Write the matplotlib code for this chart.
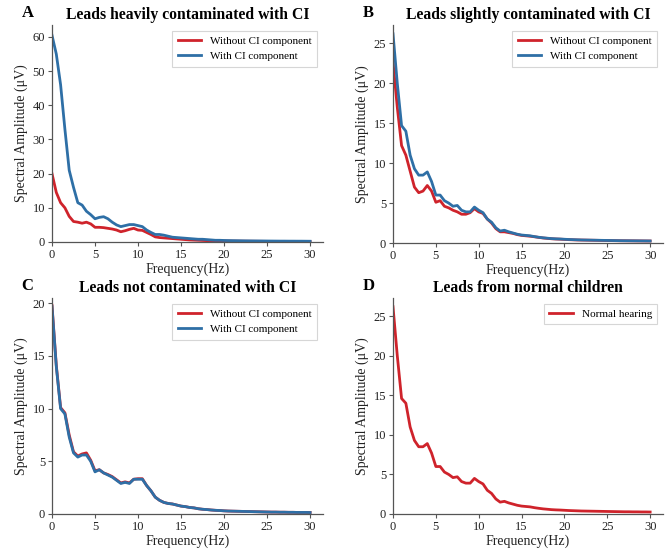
import matplotlib
matplotlib.use("Agg")
import matplotlib.pyplot as plt
import numpy as np

plt.rcParams['font.family'] = ['Liberation Serif', 'DejaVu Serif']

freq = [i * 0.5 for i in range(61)]

a_with = [60.5, 55.0, 46.0, 33.0, 21.0, 16.0, 11.5, 10.8, 9.0, 8.0,
          6.8, 7.2, 7.4, 6.8, 5.8, 5.0, 4.5, 4.8, 5.1, 5.1,
          4.8, 4.5, 3.5, 2.8, 2.2, 2.2, 2.0, 1.7, 1.4, 1.3,
          1.2, 1.1, 1.0, 0.9, 0.8, 0.8, 0.7, 0.6, 0.5, 0.5,
          0.45, 0.42, 0.4, 0.38, 0.36, 0.34, 0.33, 0.32, 0.31, 0.3,
          0.29, 0.28, 0.27, 0.26, 0.26, 0.25, 0.25, 0.24, 0.24, 0.23, 0.22]
a_without = [20.0, 14.5, 11.5, 10.0, 7.5, 6.0, 5.8, 5.5, 5.8, 5.3,
             4.3, 4.3, 4.2, 4.0, 3.8, 3.5, 3.0, 3.3, 3.7, 4.0,
             3.5, 3.4, 2.8, 2.2, 1.5, 1.3, 1.2, 1.1, 1.0, 0.9,
             0.8, 0.7, 0.6, 0.55, 0.5, 0.45, 0.4, 0.38, 0.35, 0.32,
             0.3, 0.28, 0.26, 0.25, 0.24, 0.23, 0.22, 0.21, 0.2, 0.19,
             0.18, 0.17, 0.16, 0.15, 0.15, 0.14, 0.14, 0.13, 0.13, 0.12, 0.12]

b_with = [26.2, 20.0, 14.7, 14.0, 11.0, 9.3, 8.5, 8.5, 8.9, 7.7,
          6.0, 6.0, 5.3, 5.0, 4.6, 4.7, 4.1, 3.9, 3.9, 4.5,
          4.1, 3.8, 3.0, 2.6, 1.9, 1.5, 1.6, 1.4, 1.25, 1.1,
          1.0, 0.95, 0.9, 0.8, 0.72, 0.65, 0.6, 0.55, 0.52, 0.5,
          0.47, 0.44, 0.42, 0.4, 0.38, 0.37, 0.36, 0.35, 0.34, 0.33,
          0.32, 0.31, 0.3, 0.29, 0.28, 0.28, 0.27, 0.27, 0.26, 0.26, 0.25]
b_without = [22.7, 17.0, 12.2, 11.0, 9.0, 7.0, 6.3, 6.5, 7.2, 6.5,
             5.1, 5.3, 4.6, 4.4, 4.1, 3.9, 3.6, 3.6, 3.8, 4.3,
             3.9, 3.7, 3.0, 2.5, 1.8, 1.4, 1.4, 1.3, 1.2, 1.05,
             0.95, 0.9, 0.85, 0.78, 0.7, 0.63, 0.58, 0.53, 0.5, 0.48,
             0.45, 0.42, 0.4, 0.38, 0.37, 0.36, 0.35, 0.34, 0.33, 0.32,
             0.31, 0.3, 0.29, 0.28, 0.28, 0.27, 0.27, 0.26, 0.26, 0.25, 0.25]

c_with = [19.7, 14.0, 10.0, 9.5, 7.3, 5.8, 5.4, 5.6, 5.6, 5.0,
          4.0, 4.2, 3.9, 3.7, 3.5, 3.2, 2.9, 3.0, 2.9, 3.3,
          3.3, 3.3, 2.7, 2.2, 1.6, 1.3, 1.1, 1.0, 0.95, 0.85,
          0.75, 0.7, 0.62, 0.58, 0.5, 0.45, 0.42, 0.38, 0.35, 0.33,
          0.3, 0.28, 0.27, 0.26, 0.25, 0.24, 0.23, 0.22, 0.21, 0.2,
          0.19, 0.18, 0.18, 0.17, 0.17, 0.16, 0.16, 0.15, 0.15, 0.15, 0.14]
c_without = [19.8, 14.1, 10.1, 9.6, 7.5, 5.9, 5.5, 5.7, 5.8, 5.1,
             4.1, 4.2, 3.9, 3.75, 3.55, 3.25, 2.95, 3.05, 2.95, 3.3,
             3.35, 3.35, 2.7, 2.2, 1.6, 1.3, 1.1, 1.0, 0.95, 0.85,
             0.75, 0.7, 0.62, 0.58, 0.5, 0.45, 0.42, 0.38, 0.35, 0.33,
             0.3, 0.28, 0.27, 0.26, 0.25, 0.24, 0.23, 0.22, 0.21, 0.2,
             0.19, 0.18, 0.18, 0.17, 0.17, 0.16, 0.16, 0.15, 0.15, 0.15, 0.14]

d_normal = [26.2, 20.0, 14.6, 14.0, 11.0, 9.3, 8.5, 8.5, 8.9, 7.7,
            6.0, 6.0, 5.3, 5.0, 4.6, 4.7, 4.1, 3.9, 3.9, 4.5,
            4.1, 3.8, 3.0, 2.6, 1.9, 1.5, 1.6, 1.4, 1.25, 1.1,
            1.0, 0.95, 0.9, 0.8, 0.72, 0.65, 0.6, 0.55, 0.52, 0.5,
            0.47, 0.44, 0.42, 0.4, 0.38, 0.37, 0.36, 0.35, 0.34, 0.33,
            0.32, 0.31, 0.3, 0.29, 0.28, 0.28, 0.27, 0.27, 0.26, 0.26, 0.25]

titles = ["Leads heavily contaminated with CI", "Leads slightly contaminated with CI",
          "Leads not contaminated with CI", "Leads from normal children"]
letters = ["A", "B", "C", "D"]
label_without = "Without CI component"
label_with = "With CI component"
label_normal = "Normal hearing"
xticks = [0, 5, 10, 15, 20, 25, 30]
yticks_list = [[0, 10, 20, 30, 40, 50, 60], [0, 5, 10, 15, 20, 25],
               [0, 5, 10, 15, 20], [0, 5, 10, 15, 20, 25]]

RED = "#cf232b"
BLUE = "#2e6fa6"

W, H = 670, 552
fig = plt.figure(figsize=(6.7, 5.52), dpi=100)

boxes = [(52, 25, 323, 242), (393, 25, 663, 243), (52, 298, 323, 514), (393, 298, 663, 514)]
axes = []
for (l, t, r, b) in boxes:
    ax = fig.add_axes([l / W, 1 - b / H, (r - l) / W, (b - t) / H])
    axes.append(ax)

series = [
    [(a_without, RED, label_without), (a_with, BLUE, label_with)],
    [(b_without, RED, label_without), (b_with, BLUE, label_with)],
    [(c_without, RED, label_without), (c_with, BLUE, label_with)],
    [(d_normal, RED, label_normal)],
]
ytops = [63.5, 27.3, 20.5, 27.3]

for i, ax in enumerate(axes):
    for vals, col, lab in series[i]:
        ax.plot(freq, vals, color=col, lw=2, label=lab)
    ax.set_xlim(0, 31.5)
    ax.set_ylim(0, ytops[i])
    ax.set_xticks(xticks)
    ax.set_yticks(yticks_list[i])
    ax.spines['top'].set_visible(False)
    ax.spines['right'].set_visible(False)
    for s in ['left', 'bottom']:
        ax.spines[s].set_color('#555555')
        ax.spines[s].set_linewidth(0.9)
    ax.tick_params(labelsize=9, length=3, color='#555555', labelcolor='#222222', pad=2)
    ax.set_xlabel("Frequency(Hz)", fontsize=10, labelpad=1, color='#222222')
    ax.set_ylabel("Spectral Amplitude (\u03bcV)", fontsize=10, labelpad=3, color='#222222')
    ax.set_title(titles[i], fontsize=11.3, fontweight='bold', pad=4)
    ax.text(-0.09, 1.02, letters[i], transform=ax.transAxes, fontsize=12,
            fontweight='bold', ha='center', va='bottom')
    leg = ax.legend(loc='upper right', fontsize=8, frameon=True, fancybox=False,
                    edgecolor='#cccccc', handlelength=2.1, borderpad=0.5, labelspacing=0.5)
    leg.get_frame().set_linewidth(0.8)

fig.savefig("out.png", dpi=100)
